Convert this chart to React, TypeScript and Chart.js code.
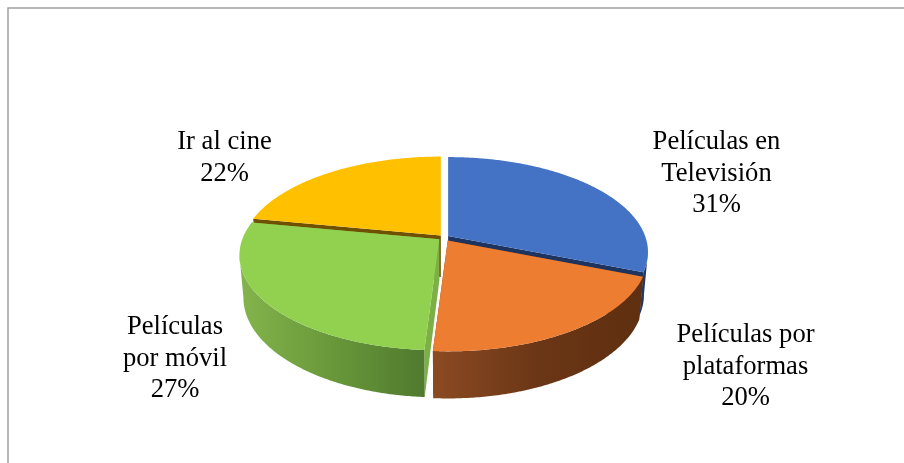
import React, { useEffect, useRef } from "react";
import { Chart, registerables } from "chart.js";

Chart.register(...registerables);

// Survey shares, clockwise from twelve o'clock
const categories = ["Películas en Televisión", "Películas por plataformas", "Películas por móvil", "Ir al cine"];
const shares = [31, 20, 27, 22];
const explode = [20, 28, 24, 20];
const topColors = ["#4472c4", "#ed7d31", "#92d050", "#ffc000"];
const cutColors = ["#1d3461", "#7a3f18", "#7cb044", "#6f5000"];
const wallStops = [
  ["#1f3864", "#1f3864"],
  ["#8b4a22", "#6b3616", "#5e2f10"],
  ["#84b44c", "#68983a", "#507a2e"],
  ["#7f6000", "#7f6000"],
];

// Label lines and where each block of text sits on the page
const labelLines = [["Películas en", "Televisión"], ["Películas por", "plataformas"], ["Películas", "por móvil"], ["Ir al cine"]];
const labelBoxes = [
  { x: 716.5, y: 142.5 },
  { x: 745.5, y: 335.5 },
  { x: 175, y: 327.5 },
  { x: 224.5, y: 142.5 },
];
const LINE_HEIGHT = 31.4;

// Tilted-disc projection: far edge is foreshortened more than the near edge
const TILT = 0.4685;
const PERSPECTIVE = 0.168;
const DEPTH = 41.5;
const BOTTOM_SCALE_X = 0.98;
const BOTTOM_SCALE_Y = 1.05;
const PAINT_ORDER = [3, 0, 2, 1];

type P = { x: number; y: number };

function onTop(cx: number, cy: number, r: number, a: number): P {
  const u = Math.cos(a);
  const v = Math.sin(a);
  const s = 1 / (1 - PERSPECTIVE * v);
  return { x: cx + r * u * s, y: cy + r * TILT * v * s };
}

function onBottom(cx: number, cy: number, r: number, a: number): P {
  const u = Math.cos(a);
  const v = Math.sin(a);
  const s = 1 / (1 - PERSPECTIVE * v);
  return { x: cx + r * u * s * BOTTOM_SCALE_X, y: cy + DEPTH + r * TILT * v * s * BOTTOM_SCALE_Y };
}

function sweep(from: number, to: number): number[] {
  const steps = Math.max(2, Math.ceil(Math.abs(to - from) / 0.01));
  const out: number[] = [];
  for (let i = 0; i <= steps; i++) out.push(from + ((to - from) * i) / steps);
  return out;
}

function fillPolygon(ctx: CanvasRenderingContext2D, pts: P[], fill: string | CanvasGradient) {
  ctx.beginPath();
  pts.forEach((p, i) => (i ? ctx.lineTo(p.x, p.y) : ctx.moveTo(p.x, p.y)));
  ctx.closePath();
  ctx.fillStyle = fill;
  ctx.fill();
}

const frame = {
  id: "frame",
  beforeDraw(chart: any) {
    const { ctx, width, height } = chart;
    ctx.save();
    ctx.strokeStyle = "#a0a0a0";
    ctx.lineWidth = 1.5;
    ctx.beginPath();
    ctx.moveTo(8, height);
    ctx.lineTo(8, 8);
    ctx.lineTo(width, 8);
    ctx.stroke();
    ctx.restore();
  },
};

const disc = {
  id: "disc",
  // The arcs keep the layout and angles Chart.js computed; only their painting is replaced
  beforeDatasetsDraw(chart: any) {
    const { ctx } = chart;
    const arcs = chart.getDatasetMeta(0).data;
    const silhouette = Math.asin(PERSPECTIVE);
    ctx.save();
    for (const i of PAINT_ORDER) {
      const arc = arcs[i];
      const { x, y, startAngle, endAngle, outerRadius: r } = arc.getProps(["x", "y", "startAngle", "endAngle", "outerRadius"]);
      const mid = (startAngle + endAngle) / 2;
      const shift = (arc.options.offset || 0) / 4;
      const cx = x + Math.cos(mid) * shift;
      const cy = y + Math.sin(mid) * shift * 0.5;

      // Cut faces exposed by the gaps between slices
      for (const a of [startAngle, endAngle]) {
        fillPolygon(ctx, [{ x: cx, y: cy }, onTop(cx, cy, r, a), onBottom(cx, cy, r, a), { x: cx, y: cy + DEPTH }], cutColors[i]);
      }

      // Outer wall, limited to the part that faces the viewer
      const from = Math.max(startAngle, silhouette);
      const to = Math.min(endAngle, Math.PI - silhouette);
      if (to > from) {
        const angles = sweep(from, to);
        const upper = angles.map((a) => onTop(cx, cy, r, a));
        const lower = angles.map((a) => onBottom(cx, cy, r, a)).reverse();
        const xs = upper.map((p) => p.x);
        const grad = ctx.createLinearGradient(Math.min(...xs), 0, Math.max(...xs), 0);
        const stops = wallStops[i];
        stops.forEach((c, k) => grad.addColorStop(k / (stops.length - 1), c));
        fillPolygon(ctx, [...upper, ...lower], grad);
      }

      // Top face
      const rim = sweep(startAngle, endAngle).map((a) => onTop(cx, cy, r, a));
      fillPolygon(ctx, [{ x: cx, y: cy }, ...rim], arc.options.backgroundColor);
    }
    ctx.restore();
    return false;
  },
};

const labels = {
  id: "sliceLabels",
  afterDraw(chart: any) {
    const { ctx } = chart;
    ctx.save();
    ctx.font = '26.6px "Liberation Serif"';
    ctx.fillStyle = "#000000";
    ctx.textAlign = "center";
    ctx.textBaseline = "middle";
    labelLines.forEach((lines, i) => {
      const rows = [...lines, `${shares[i]}%`];
      rows.forEach((row, k) => ctx.fillText(row, labelBoxes[i].x, labelBoxes[i].y + k * LINE_HEIGHT));
    });
    ctx.restore();
  },
};

export default function App() {
  const ref = useRef<HTMLCanvasElement>(null);

  useEffect(() => {
    const chart = new Chart(ref.current as HTMLCanvasElement, {
      type: "pie",
      data: {
        labels: categories,
        datasets: [{ data: shares, backgroundColor: topColors, borderWidth: 0, offset: explode }],
      },
      options: {
        responsive: false,
        animation: false,
        radius: 197,
        layout: { padding: { left: 0, right: 16, top: 12, bottom: 0 } },
        plugins: { legend: { display: false }, tooltip: { enabled: false } },
      },
      plugins: [frame, disc, labels],
    } as any);
    return () => chart.destroy();
  }, []);

  return (
    <div style={{ position: "fixed", left: 0, top: 0, width: 904, height: 463, background: "#ffffff" }}>
      <canvas ref={ref} width={904} height={463} style={{ display: "block" }} />
    </div>
  );
}
